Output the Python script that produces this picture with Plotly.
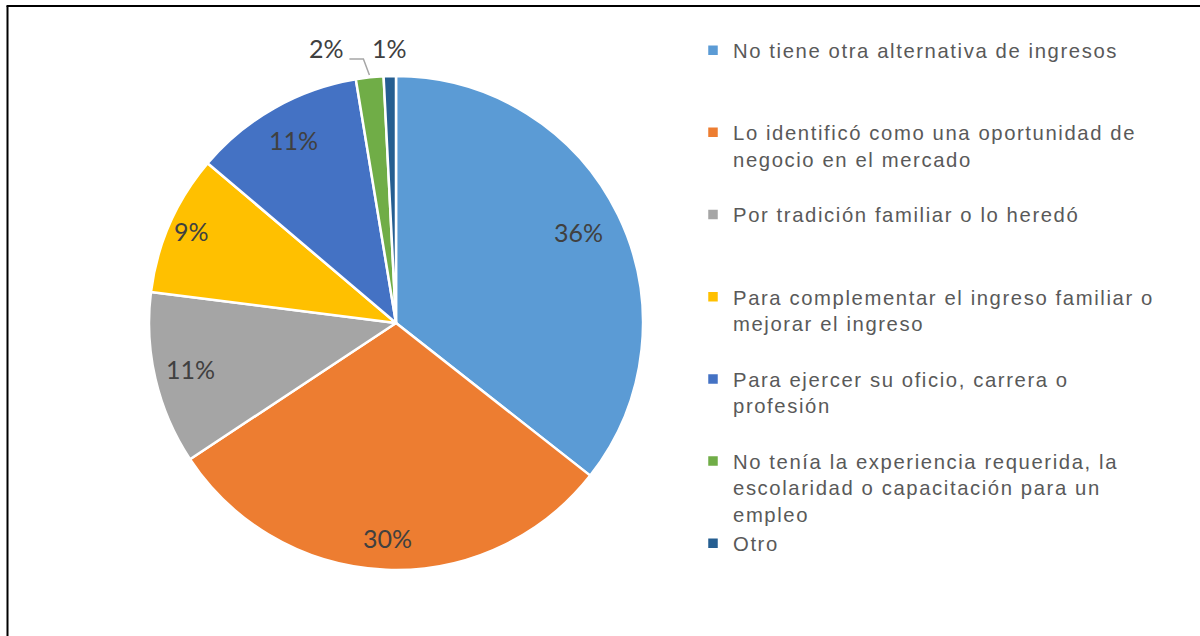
import math
import plotly.graph_objects as go

categories = [
    ["No tiene otra alternativa de ingresos"],
    ["Lo identificó como una oportunidad de", "negocio en el mercado"],
    ["Por tradición familiar o lo heredó"],
    ["Para complementar el ingreso familiar o", "mejorar el ingreso"],
    ["Para ejercer su oficio, carrera o", "profesión"],
    ["No tenía la experiencia requerida, la", "escolaridad o capacitación para un", "empleo"],
    ["Otro"],
]
values = [35.6, 30.1, 11.3, 9.2, 11.2, 1.8, 0.8]
colors = ["#5B9BD5", "#ED7D31", "#A5A5A5", "#FFC000", "#4472C4", "#70AD47", "#255E91"]
label_text = [f"{round(v)}%" for v in values]

# layout helpers (pixel geometry of the reference)
W, H = 1200, 636
cx, cy, r = 396, 323, 247
label_radius = [0.82, 0.88, 0.855, 0.905, 0.84, None, 1.105]

def span(t):
    return f"<span style='letter-spacing:1.6px'>{t}</span>"

legend_labels = []
for i, lines in enumerate(categories):
    lines = [span(l) for l in lines]
    if i < len(categories) - 1:
        lines = lines + [" "] * (3 - len(lines))
    legend_labels.append("<br>".join(lines))

fig = go.Figure(go.Pie(
    labels=legend_labels,
    values=values,
    sort=False,
    direction="clockwise",
    rotation=0,
    marker=dict(colors=colors, line=dict(color="white", width=2.5)),
    textinfo="none",
    hoverinfo="percent",
    domain=dict(x=[(cx - r) / W, (cx + r) / W], y=[(H - cy - r) / H, (H - cy + r) / H]),
    showlegend=True,
))

total = sum(values)
cum = 0.0
annotations = []
shapes = []
for i, v in enumerate(values):
    theta = 2 * math.pi * (cum + v / 2) / total
    cum += v
    if label_radius[i] is not None:
        f = label_radius[i]
        px = cx + f * r * math.sin(theta)
        py = cy - f * r * math.cos(theta)
    else:
        # leader-line label: text set to the left of the slice edge
        ex = cx + 1.01 * r * math.sin(theta)
        ey = cy - 1.01 * r * math.cos(theta)
        px, py = ex - 43, cy - 1.105 * r
        path = f"M {(px + 23) / W},{1 - (py + 9) / H} L {(ex - 6) / W},{1 - (py + 9) / H} L {ex / W},{1 - ey / H}"
        shapes.append(dict(type="path", xref="paper", yref="paper", path=path,
                           line=dict(color="#A6A6A6", width=1.5)))
    annotations.append(dict(
        x=px / W, y=1 - (py - 2) / H, xref="paper", yref="paper",
        text=label_text[i], showarrow=False, xanchor="center", yanchor="middle",
        font=dict(family="Lato", size=25, color="#404040"),
    ))

shapes += [
    dict(type="line", xref="paper", yref="paper", x0=7.5 / W, x1=7.5 / W, y0=-0.05, y1=1 - 6 / H,
         line=dict(color="black", width=2)),
    dict(type="line", xref="paper", yref="paper", x0=6.5 / W, x1=1.05, y0=1 - 6 / H, y1=1 - 6 / H,
         line=dict(color="black", width=2)),
]

fig.update_layout(
    width=W, height=H,
    margin=dict(l=0, r=0, t=0, b=0),
    paper_bgcolor="white",
    plot_bgcolor="white",
    legend=dict(
        x=693 / W, xanchor="left",
        y=1 - 30.5 / H, yanchor="top",
        valign="top",
        font=dict(family="Liberation Sans, Arial", size=20.3, color="#595959"),
        bgcolor="rgba(0,0,0,0)",
        traceorder="normal",
    ),
    annotations=annotations,
    shapes=shapes,
)

fig.write_html("out.html", config={"displayModeBar": False},
               post_script="document.body.style.margin='0px';")
